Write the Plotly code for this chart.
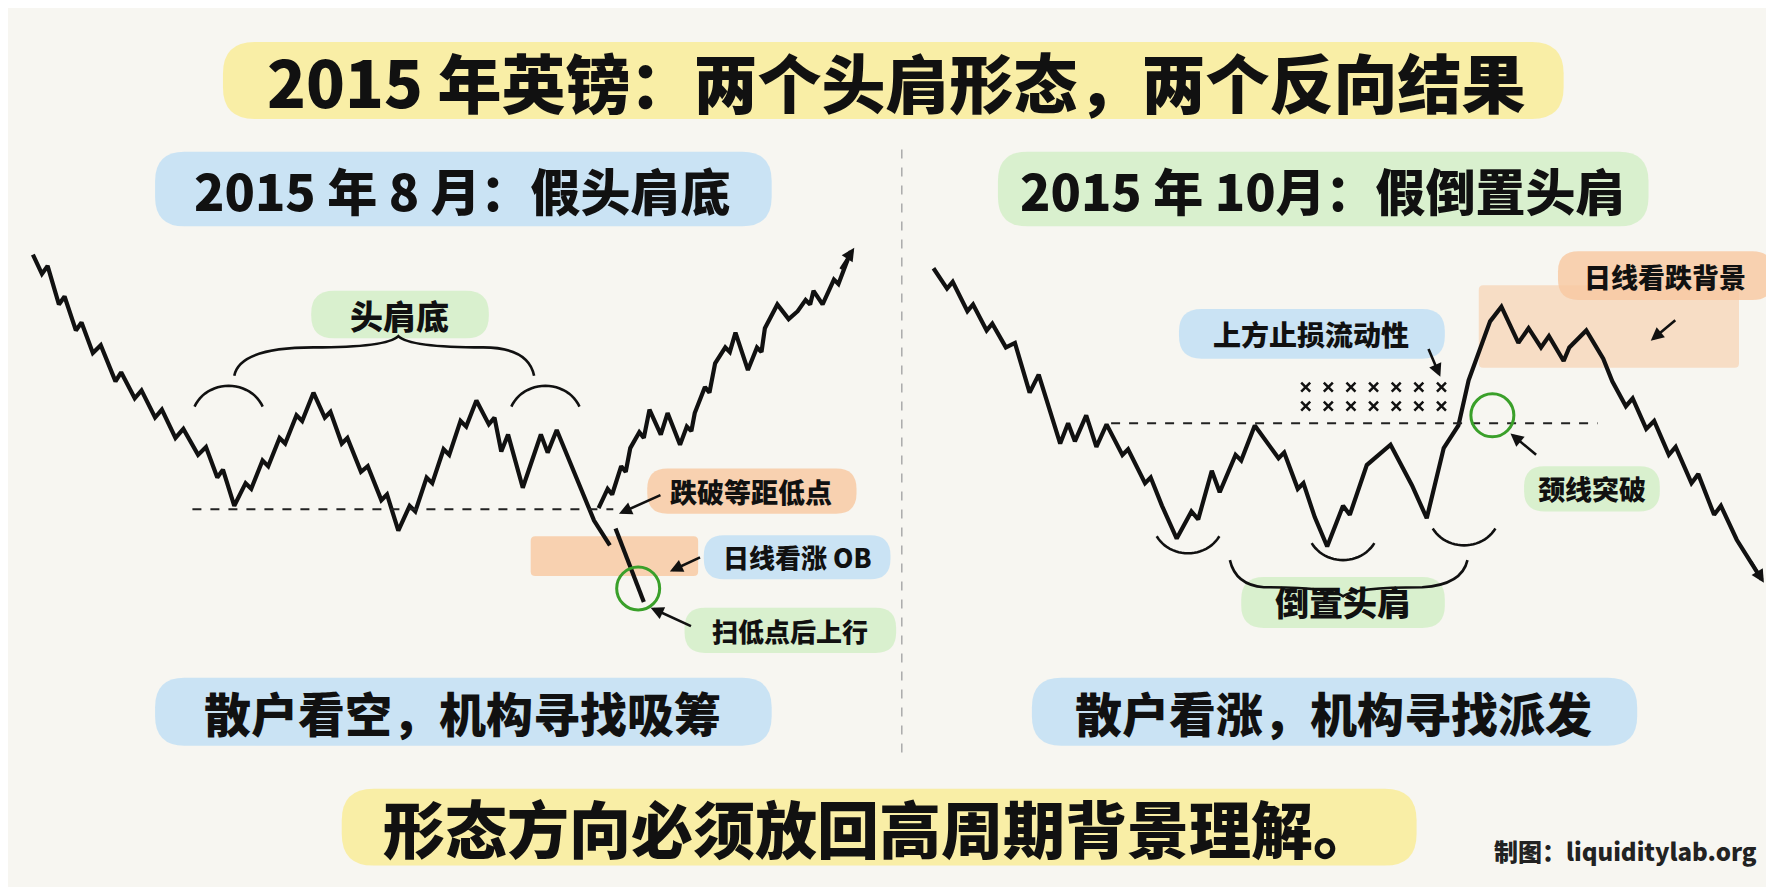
import plotly.graph_objects as go
import math

# ---------------- data (sketch coordinates, 1568 x 784 canvas) ----------------
left_down_x = [22,30,35,45,50,60,65,75,82,95,100,112,118,130,136,148,155,168,175,185,190,200,210,215,225,230,240,245,255,260,270,280,285,295,300,312,318,330,335,345,355,360,370,375,385,390,400,405,414,425,430,436,442,455,471,477,485,518,532]
left_down_y = [218,235,228,262,255,285,278,305,298,330,322,345,338,362,355,380,372,395,388,415,408,440,420,425,400,405,380,385,360,365,340,362,357,385,380,410,405,435,430,462,440,445,415,420,390,395,365,370,347,368,362,392,377,424,377,393,373,453,475]
left_sweep_x = [537,562]
left_sweep_y = [460,525]
left_up_x = [522,530,534,542,546,550,558,562,567,577,583,594,600,604,607,616,620,625,634,638,643,654,662,666,669,680,690,698,705,709,712,720,730,734,745]
left_up_y = [442,425,430,405,410,389,375,380,355,377,358,386,370,374,358,335,340,314,300,304,287,320,300,304,283,262,275,268,258,262,250,262,240,244,215]

right_x = [818,830,835,848,853,865,870,882,890,903,911,930,937,943,953,962,971,985,990,1005,1010,1020,1033,1046,1052,1064,1071,1085,1090,1102,1123,1128,1140,1145,1155,1166,1180,1186,1201,1222,1241,1254,1269,1282,1291,1310,1320,1335,1344,1355,1362,1375,1380,1395,1410,1418,1430,1436,1448,1455,1468,1474,1488,1494,1508,1514,1528,1550]
right_y = [230,248,242,268,262,285,279,300,296,340,324,385,367,383,360,388,368,395,390,420,415,440,469,445,452,409,428,395,400,369,398,393,425,420,450,476,440,448,404,386,422,451,389,369,329,277,264,296,283,300,290,312,300,285,310,330,352,345,372,365,395,388,420,412,448,440,470,505]

crosses_x = [1147,1167,1187,1207,1227,1247,1267]
crosses_y = [335,352]

BG = "#f7f6f1"
YEL = "rgba(250,235,140,0.75)"
BLU = "rgba(190,222,245,0.8)"
GRN = "rgba(212,238,200,0.85)"
ORG = "rgba(247,200,160,0.8)"
FONT = "Noto Sans CJK SC"

fig = go.Figure()
ink = dict(color="#111", width=4.2)
fig.add_trace(go.Scatter(x=left_down_x, y=left_down_y, mode="lines", line=ink, hoverinfo="skip"))
fig.add_trace(go.Scatter(x=left_sweep_x, y=left_sweep_y, mode="lines", line=ink, hoverinfo="skip"))
fig.add_trace(go.Scatter(x=left_up_x, y=left_up_y, mode="lines", line=ink, hoverinfo="skip"))
fig.add_trace(go.Scatter(x=right_x, y=right_y, mode="lines", line=ink, hoverinfo="skip"))
cx = [x for x in crosses_x for _ in crosses_y]
cy = [y for _ in crosses_x for y in crosses_y]
fig.add_trace(go.Scatter(x=cx, y=cy, mode="markers", marker=dict(symbol="x-thin", size=9, line=dict(width=2.5, color="#111")), hoverinfo="skip"))

shapes = []
def blob(x0, y0, x1, y1, color, r=18):
    p = (f"M{x0+r},{y0} L{x1-r},{y0} Q{x1},{y0} {x1},{y0+r} L{x1},{y1-r} Q{x1},{y1} {x1-r},{y1} "
         f"L{x0+r},{y1} Q{x0},{y1} {x0},{y1-r} L{x0},{y0+r} Q{x0},{y0} {x0+r},{y0} Z")
    shapes.append(dict(type="path", path=p, fillcolor=color, line=dict(width=0), layer="below"))

def arc(cx_, cy_, rx, ry, a0, a1):
    pts = []
    for i in range(25):
        a = math.radians(a0 + (a1 - a0) * i / 24)
        pts.append(f"{cx_ + rx*math.cos(a):.1f},{cy_ - ry*math.sin(a):.1f}")
    shapes.append(dict(type="path", path="M" + " L".join(pts), line=dict(color="#111", width=2.6)))

def text(x, y, s, size, color="#111", anchor="center"):
    fig.add_annotation(x=x, y=y, text=s, showarrow=False, xanchor=anchor,
                       font=dict(family=FONT, size=size, color=color, weight=900))

def arrow(x0, y0, x1, y1):
    fig.add_annotation(x=x1, y=y1, ax=x0, ay=y0, axref="x", ayref="y", text="",
                       showarrow=True, arrowhead=2, arrowsize=1, arrowwidth=2.6, arrowcolor="#111")

# blobs
blob(190, 30, 1375, 98, YEL, 28)
blob(130, 127, 675, 193, BLU, 26)
blob(875, 127, 1450, 193, GRN, 26)
blob(268, 250, 425, 292, GRN, 20)
blob(565, 407, 750, 447, ORG, 18)
blob(462, 467, 610, 502, ORG, 4)
blob(615, 466, 780, 505, BLU, 18)
blob(598, 530, 785, 570, GRN, 18)
blob(130, 592, 675, 652, BLU, 26)
blob(1035, 266, 1270, 310, BLU, 20)
blob(1300, 245, 1530, 318, "rgba(247,200,160,0.55)", 4)
blob(1370, 215, 1560, 258, ORG, 18)
blob(1340, 405, 1460, 445, GRN, 18)
blob(1090, 503, 1270, 548, GRN, 20)
blob(905, 592, 1440, 652, BLU, 26)
blob(295, 690, 1245, 758, YEL, 28)

# dashed lines
shapes.append(dict(type="line", x0=790, x1=790, y0=125, y1=662, line=dict(color="#aaa", width=1.5, dash="dash")))
shapes.append(dict(type="line", x0=163, x1=535, y0=443, y1=443, line=dict(color="#222", width=2, dash="dash")))
shapes.append(dict(type="line", x0=975, x1=1405, y0=367, y1=367, line=dict(color="#222", width=2, dash="dash")))

# arcs
arc(195, 362, 32, 28, 20, 160)
arc(475, 362, 32, 28, 20, 160)
arc(1043, 452, 32, 30, 210, 330)
arc(1180, 458, 32, 30, 210, 330)
arc(1287, 445, 32, 30, 210, 330)
# braces
shapes.append(dict(type="path", path="M200,325 Q205,300 270,300 Q335,300 345,290 Q355,300 420,300 Q460,300 465,325",
                   line=dict(color="#111", width=2.6)))
shapes.append(dict(type="path", path="M1080,488 Q1085,510 1110,512 Q1170,512 1180,520 Q1190,512 1250,512 Q1285,510 1290,488",
                   line=dict(color="#111", width=2.6)))
for (gx, gy) in [(557, 513), (1312, 360)]:
    shapes.append(dict(type="circle", x0=gx-19, x1=gx+19, y0=gy-19, y1=gy+19, line=dict(color="#3aa02a", width=3)))

# texts
text(785, 64, "2015 年英镑：两个头肩形态，两个反向结果", 64)
text(402, 160, "2015 年 8 月：假头肩底", 50)
text(1162, 160, "2015 年 10月：假倒置头肩", 50)
text(346, 271, "头肩底", 33)
text(657, 427, "跌破等距低点", 27)
text(697, 485, "日线看涨 OB", 26)
text(691, 550, "扫低点后上行", 26)
text(402, 622, "散户看空，机构寻找吸筹", 47)
text(1152, 288, "上方止损流动性", 28)
text(1465, 237, "日线看跌背景", 27)
text(1400, 425, "颈线突破", 27)
text(1180, 525, "倒置头肩", 34)
text(1172, 622, "散户看涨，机构寻找派发", 47)
text(770, 724, "形态方向必须放回高周期背景理解。", 62)
text(1548, 745, "制图：liquiditylab.org", 24, "#222", "right")

# arrows
arrow(578, 430, 540, 447)
arrow(613, 485, 585, 498)
arrow(605, 547, 568, 530)
arrow(1255, 300, 1266, 326)
arrow(1352, 396, 1328, 376)
arrow(1475, 275, 1452, 294)
arrow(735, 232, 748, 212)
arrow(1540, 488, 1552, 508)

fig.update_layout(width=1774, height=887, margin=dict(l=0, r=0, t=0, b=0),
                  paper_bgcolor=BG, plot_bgcolor=BG, showlegend=False, shapes=shapes,
                  xaxis=dict(range=[0, 1568], visible=False, fixedrange=True),
                  yaxis=dict(range=[784, 0], visible=False, fixedrange=True))
fig.write_html("out.html")
